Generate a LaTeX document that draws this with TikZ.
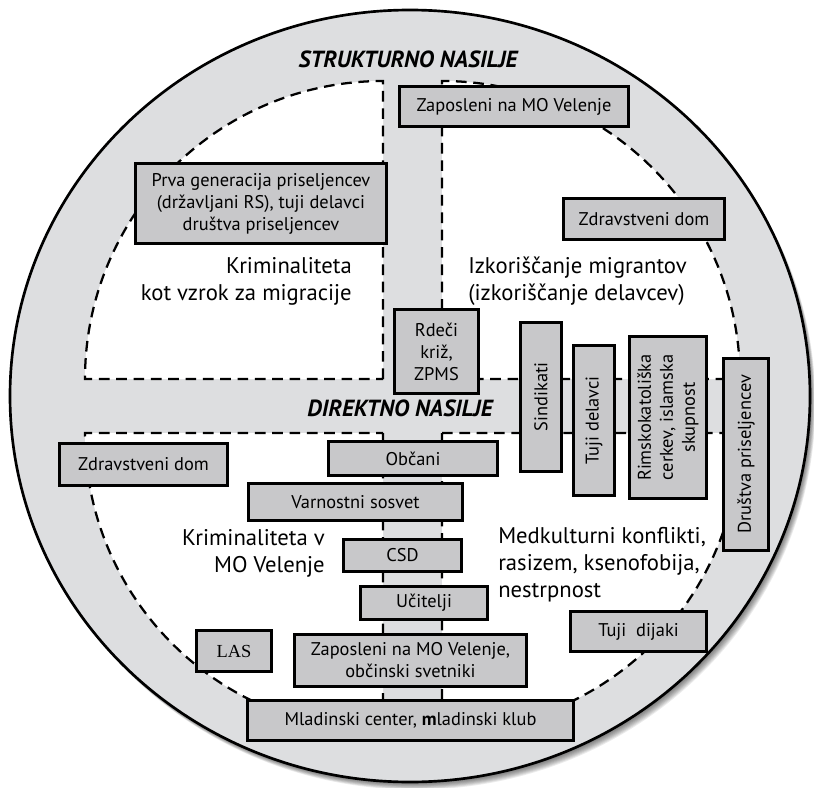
\documentclass[tikz,border=0pt]{standalone}
\usepackage{fontspec}
\setmainfont{PT Sans}
\newfontfamily\lasfont{Liberation Serif}
\definecolor{ringgray}{RGB}{221,222,224}
\definecolor{boxgray}{RGB}{200,200,202}
\tikzset{
  box/.style={draw=black, fill=boxgray, line width=2.3pt, inner sep=0pt, align=center,
              font={\fontsize{13.8pt}{16.5pt}\selectfont}},
  dashline/.style={draw=black, line width=1.7pt, dash pattern=on 8pt off 5pt},
  freetext/.style={inner sep=0pt, font={\fontsize{17pt}{20.2pt}\selectfont}},
  heading/.style={inner sep=0pt, font={\fontsize{17.5pt}{20pt}\selectfont\bfseries\itshape}}
}
\newcommand{\mybox}[6]{\node[box, minimum width={(#4-#2-3)*0.75pt}, minimum height={(#5-#3-3)*0.75pt}] (#1) at ({(#2+#4)/2},{(#3+#5)/2}) {#6};}
\newcommand{\myvbox}[6]{\node[box, rotate=90, minimum width={(#5-#3-3)*0.75pt}, minimum height={(#4-#2-3)*0.75pt}] (#1) at ({(#2+#4)/2},{(#3+#5)/2}) {#6};}
\begin{document}
\begin{tikzpicture}[x=0.75pt,y=-0.75pt]
\useasboundingbox (0,0) rectangle (814,788);
% shadow
\foreach \i in {1,...,9}
  \fill[black, opacity=0.08] ({410+0.6*\i},{396+0.85*\i}) ellipse[x radius=400, y radius=386];
% outer disc
\fill[ringgray] (410,396) ellipse[x radius=400, y radius=386];
\draw[line width=2pt] (410,396) ellipse[x radius=400, y radius=386];
% white quadrants
\fill[white] (383,379) -- (383,81) arc[start angle=-90, end angle=-180, radius=298] -- cycle;
\fill[white] (442,379) -- (442,81) arc[start angle=-90, end angle=0, radius=298] -- cycle;
\fill[white] (442,433) -- (740,433) arc[start angle=0, end angle=90, radius=298] -- cycle;
\fill[white] (383,433) -- (383,731) arc[start angle=90, end angle=180, radius=298] -- cycle;
\draw[dashline] (383,379) -- (383,81) arc[start angle=-90, end angle=-180, radius=298] -- cycle;
\draw[dashline] (442,379) -- (442,81) arc[start angle=-90, end angle=0, radius=298] -- cycle;
\draw[dashline] (442,433) -- (740,433) arc[start angle=0, end angle=90, radius=298] -- cycle;
\draw[dashline] (383,433) -- (383,731) arc[start angle=90, end angle=180, radius=298] -- cycle;
% headings
\node[heading] (strukt) at (408,59) {STRUKTURNO NASILJE};
\node[heading] (direkt) at (400,408) {DIREKTNO NASILJE};
% free texts
\node[freetext, align=right, anchor=east] (krim1) at (352,281) {Kriminaliteta\\kot vzrok za migracije};
\node[freetext, align=left, anchor=west] (izk) at (468,281) {Izkoriščanje migrantov\\(izkoriščanje delavcev)};
\node[freetext, align=right, anchor=east] (krim2) at (325,553) {Kriminaliteta v\\MO Velenje};
\node[freetext, align=left, anchor=west] (medk) at (498,565) {Medkulturni konflikti,\\rasizem, ksenofobija,\\nestrpnost};
% boxes
\mybox{zap1}{398}{85}{630}{128}{Zaposleni na MO Velenje}
\mybox{zd1}{562}{197}{726}{241}{Zdravstveni dom}
\mybox{prva}{134}{162}{388}{245}{Prva generacija priseljencev\\(državljani RS), tuji delavci\\društva priseljencev}
\mybox{rdeci}{393}{308}{480}{395}{Rdeči\\križ,\\ZPMS}
\myvbox{sind}{519}{321}{563}{473}{Sindikati}
\myvbox{tuji}{572}{344}{616}{497}{Tuji delavci}
\myvbox{rimsko}{628}{335}{708}{500}{Rimskokatoliška\\cerkev, islamska\\skupnost}
\myvbox{drustva}{722}{357}{770}{552}{Društva priseljencev}
\mybox{zd2}{58}{442}{229}{487}{Zdravstveni dom}
\mybox{obcani}{327}{440}{499}{477}{Občani}
\mybox{varn}{247}{482}{464}{522}{Varnostni sosvet}
\mybox{csd}{342}{538}{463}{573}{CSD}
\mybox{ucit}{359}{585}{489}{621}{Učitelji}
\mybox{zap2}{293}{633}{528}{688}{Zaposleni na MO Velenje,\\občinski svetniki}
\mybox{mlad}{246}{699}{575}{742}{Mladinski center, \textbf{m}ladinski klub}
\mybox{las}{195}{629}{273}{673}{\lasfont LAS}
\mybox{dijaki}{569}{610}{708}{653}{Tuji\ \ dijaki}
\end{tikzpicture}
\end{document}
